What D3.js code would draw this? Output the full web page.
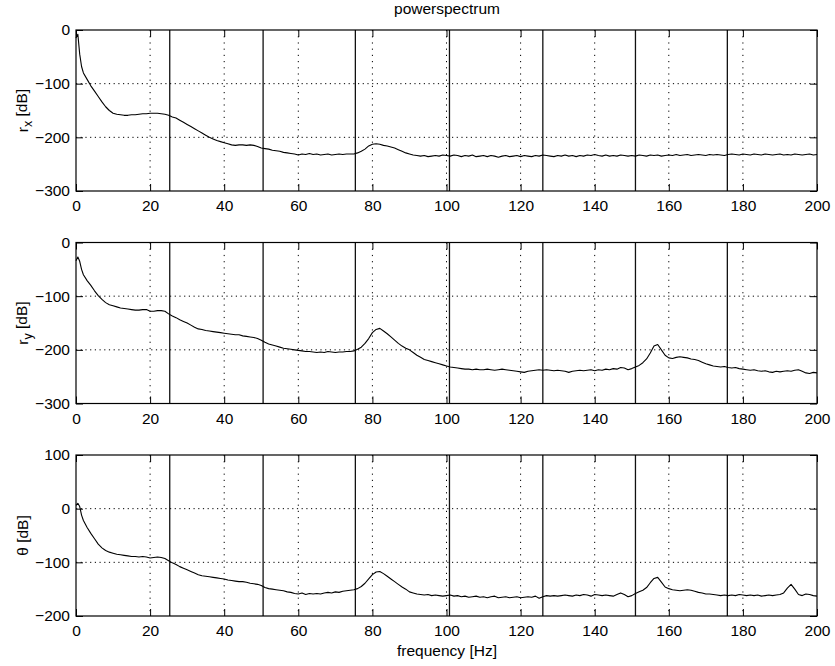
<!DOCTYPE html>
<html>
<head>
<meta charset="utf-8">
<script src="https://cdn.jsdelivr.net/npm/d3@7"></script>
<style>
  html, body { margin: 0; padding: 0; background: #fff; }
  text { font-family: "Liberation Sans", Arial, Helvetica, sans-serif; fill: #000; }
</style>
</head>
<body>
<svg id="chart" width="835" height="666"></svg>
<script>
// ---------- DATA ----------
const title = "powerspectrum";
const xLabel = "frequency [Hz]";
const xTicks = [0, 20, 40, 60, 80, 100, 120, 140, 160, 180, 200];
const harmonicLines = [25.3, 50.5, 75.4, 100.8, 126, 151, 175.8];

const freq = [0, 0.5, 1, 1.5, 2, 3, 4, 5, 6, 7, 8, 9, 10,
  11, 12, 13, 14, 15, 16, 17, 18, 19, 20,
  21, 22, 23, 24, 25, 26, 27, 28, 29, 30,
  31, 32, 33, 34, 35, 36, 37, 38, 39, 40,
  41, 42, 43, 44, 45, 46, 47, 48, 49, 50,
  51, 52, 53, 54, 55, 56, 57, 58, 59, 60,
  61, 62, 63, 64, 65, 66, 67, 68, 69, 70,
  71, 72, 73, 74, 75, 76, 77, 78, 79, 80,
  81, 82, 83, 84, 85, 86, 87, 88, 89, 90,
  91, 92, 93, 94, 95, 96, 97, 98, 99, 100,
  101, 102, 103, 104, 105, 106, 107, 108, 109, 110,
  111, 112, 113, 114, 115, 116, 117, 118, 119, 120,
  121, 122, 123, 124, 125, 126, 127, 128, 129, 130,
  131, 132, 133, 134, 135, 136, 137, 138, 139, 140,
  141, 142, 143, 144, 145, 146, 147, 148, 149, 150,
  151, 152, 153, 154, 155, 156, 157, 158, 159, 160,
  161, 162, 163, 164, 165, 166, 167, 168, 169, 170,
  171, 172, 173, 174, 175, 176, 177, 178, 179, 180,
  181, 182, 183, 184, 185, 186, 187, 188, 189, 190,
  191, 192, 193, 194, 195, 196, 197, 198, 199, 200];

const rxDB = [-15, -8, -45, -68, -80, -92, -104, -114, -124, -134, -143, -150, -155,
  -157, -158, -159, -159, -158, -158, -157, -156, -156, -155,
  -155, -155, -156, -157, -159, -162, -164, -168, -172, -176,
  -180, -184, -188, -192, -196, -200, -203, -206, -208, -210,
  -212, -214, -215, -214, -214, -215, -214, -215, -217, -220,
  -221, -222, -224, -225, -226, -228, -229, -230, -231, -233,
  -231, -232, -230, -232, -231, -233, -232, -231, -233, -232,
  -231, -232, -231, -231, -231, -229, -226, -222, -216, -213,
  -212, -213, -215, -216, -218, -220, -223, -226, -229, -231,
  -233, -234, -235, -234, -236, -235, -234, -235, -233, -234,
  -235, -233, -234, -236, -234, -235, -233, -236, -235, -234,
  -236, -234, -235, -237, -235, -234, -236, -235, -234, -236,
  -234, -235, -236, -234, -235, -233, -234, -235, -236, -234,
  -235, -233, -235, -234, -236, -234, -235, -233, -234, -232,
  -234, -235, -233, -235, -234, -235, -233, -234, -235, -234,
  -235, -233, -234, -235, -233, -234, -233, -235, -234, -233,
  -234, -232, -234, -233, -232, -234, -233, -232, -233, -234,
  -232, -233, -232, -233, -234, -232, -231, -232, -233, -231,
  -232, -233, -231, -232, -233, -231, -232, -233, -232, -231,
  -233, -232, -233, -231, -232, -233, -232, -231, -233, -232];

const ryDB = [-34, -27, -35, -50, -60, -71, -80, -90, -99, -106, -112, -116, -118,
  -120, -122, -123, -124, -125, -126, -126, -125, -125, -128,
  -128, -127, -127, -128, -133, -137, -140, -144, -147, -150,
  -154, -158, -161, -162, -164, -165, -166, -167, -168, -169,
  -170, -171, -172, -172, -174, -175, -176, -177, -179, -182,
  -186, -189, -191, -193, -195, -197, -198, -199, -200, -201,
  -202, -203, -203, -204, -205, -204, -205, -203, -204, -205,
  -204, -204, -203, -203, -202, -199, -195, -188, -179, -168,
  -162, -160, -165, -170, -176, -182, -188, -193, -197, -200,
  -205, -210, -214, -218, -220, -222, -224, -226, -228, -230,
  -232, -233, -234, -235, -236, -236, -237, -236, -237, -237,
  -236, -237, -238, -237, -236, -237, -238, -239, -240, -241,
  -242, -240, -239, -238, -237, -238, -237, -238, -239, -238,
  -239, -240, -242, -240, -239, -238, -239, -238, -237, -239,
  -237, -238, -236, -237, -235, -236, -233, -234, -237, -235,
  -232, -229, -224, -217, -206, -193, -190, -200, -210, -215,
  -216, -214, -213, -214, -215, -217, -218, -220, -223, -226,
  -228, -230, -231, -232, -231, -233, -234, -233, -235, -236,
  -237, -238, -237, -239, -240, -239, -241, -242, -240, -241,
  -240, -239, -240, -238, -237, -240, -243, -244, -242, -243];

const thetaDB = [6, 10, 4, -12, -22, -35, -46, -56, -66, -73, -78, -81, -83,
  -85, -86, -87, -88, -89, -89, -90, -89, -90, -92,
  -91, -90, -91, -93, -97, -101, -104, -108, -111, -114,
  -117, -120, -123, -125, -126, -127, -128, -129, -130, -131,
  -133, -134, -135, -136, -136, -137, -139, -140, -141, -143,
  -147, -149, -150, -151, -152, -153, -155, -156, -158, -159,
  -157, -160, -158, -159, -158, -159, -157, -156, -157, -155,
  -156, -154, -153, -152, -151, -149, -145, -139, -131, -123,
  -118, -117, -121, -126, -131, -136, -141, -146, -150, -155,
  -157, -159, -160, -161, -160, -162, -161, -162, -163, -162,
  -161, -163, -162, -164, -163, -165, -164, -163, -165, -164,
  -166, -164, -163, -166, -165, -164, -166, -165, -164, -166,
  -165, -164, -165, -163, -167, -164, -162, -163, -162, -163,
  -162, -161, -162, -163, -161, -162, -160, -161, -163, -160,
  -161, -162, -161, -162, -163, -160, -157, -160, -164, -162,
  -158, -155, -152, -147, -138, -130, -128, -137, -146, -149,
  -151, -152, -153, -152, -151, -152, -154, -156, -157, -159,
  -159, -160, -161, -162, -161, -162, -161, -162, -160, -161,
  -162, -161, -162, -161, -163, -162, -161, -162, -161, -160,
  -157, -148, -141, -150, -160, -162, -159, -160, -162, -163];

const yTicksRx = [-300, -200, -100, 0];
const yTicksRy = [-300, -200, -100, 0];
const yTicksTheta = [-200, -100, 0, 100];

// ---------- LAYOUT ----------
const svg = d3.select("#chart");
const left = 76, right = 817, panelH = 161;
const panels = [
  { top: 30,    domain: [-300, 0],   ticks: yTicksRx,    values: rxDB,    label: ["r", "x", " [dB]"] },
  { top: 242.5, domain: [-300, 0],   ticks: yTicksRy,    values: ryDB,    label: ["r", "y", " [dB]"] },
  { top: 455,   domain: [-200, 100], ticks: yTicksTheta, values: thetaDB, label: ["θ", "", " [dB]"] }
];

const x = d3.scaleLinear().domain([0, 200]).range([left, right]);
const tickLen = 7;
const fontSize = 15.5;

panels.forEach((p, i) => {
  const y = d3.scaleLinear().domain(p.domain).range([p.top + panelH, p.top]);
  const g = svg.append("g");

  // grid (dotted)
  g.append("g").selectAll("line.vg")
    .data(xTicks.filter(t => t > 0 && t < 200))
    .join("line")
    .attr("x1", d => x(d)).attr("x2", d => x(d))
    .attr("y1", y.range()[1]).attr("y2", y.range()[0])
    .attr("stroke", "#000").attr("stroke-width", 1)
    .attr("stroke-dasharray", "1.2,5");
  g.append("g").selectAll("line.hg")
    .data(p.ticks.filter(t => t > p.domain[0] && t < p.domain[1]))
    .join("line")
    .attr("x1", left).attr("x2", right)
    .attr("y1", d => y(d)).attr("y2", d => y(d))
    .attr("stroke", "#000").attr("stroke-width", 1)
    .attr("stroke-dasharray", "1.2,3.5");

  // harmonic solid lines
  g.append("g").selectAll("line.hl")
    .data(harmonicLines)
    .join("line")
    .attr("x1", d => x(d)).attr("x2", d => x(d))
    .attr("y1", y.range()[1]).attr("y2", y.range()[0])
    .attr("stroke", "#111").attr("stroke-width", 1.3);

  // curve
  const line = d3.line()
    .x((d, k) => x(freq[k]))
    .y(d => y(d));
  g.append("path")
    .datum(p.values)
    .attr("fill", "none")
    .attr("stroke", "#000")
    .attr("stroke-width", 1.1)
    .attr("stroke-linejoin", "round")
    .attr("d", line);

  // axes
  const axB = g.append("g").attr("transform", `translate(0,${p.top + panelH})`)
    .call(d3.axisBottom(x).tickValues(xTicks).tickSizeInner(-tickLen).tickSizeOuter(0).tickPadding(9).tickFormat(d3.format("d")));
  const axT = g.append("g").attr("transform", `translate(0,${p.top})`)
    .call(d3.axisTop(x).tickValues(xTicks).tickSizeInner(-tickLen).tickSizeOuter(0).tickFormat(""));
  const axL = g.append("g").attr("transform", `translate(${left},0)`)
    .call(d3.axisLeft(y).tickValues(p.ticks).tickSizeInner(-tickLen).tickSizeOuter(0).tickPadding(6).tickFormat(d3.format("d")));
  const axR = g.append("g").attr("transform", `translate(${right},0)`)
    .call(d3.axisRight(y).tickValues(p.ticks).tickSizeInner(-tickLen).tickSizeOuter(0).tickFormat(""));
  [axB, axT, axL, axR].forEach(a => {
    a.select(".domain").remove();
    a.selectAll(".tick line").attr("stroke", "#000").attr("stroke-width", 1);
    a.selectAll("text").attr("font-size", fontSize).attr("font-family", "Liberation Sans, Arial, sans-serif").attr("fill", "#000");
  });

  // box
  g.append("rect")
    .attr("x", left).attr("y", p.top)
    .attr("width", right - left).attr("height", panelH)
    .attr("fill", "none").attr("stroke", "#000").attr("stroke-width", 1.2);

  // y label
  const cy = p.top + panelH / 2;
  const t = g.append("text")
    .attr("transform", `translate(28,${cy}) rotate(-90)`)
    .attr("text-anchor", "middle")
    .attr("font-size", fontSize);
  t.append("tspan").text(p.label[0]);
  if (p.label[1]) {
    t.append("tspan").attr("dy", "0.35em").attr("font-size", fontSize * 0.8).text(p.label[1]);
    t.append("tspan").attr("dy", "-0.35em").text(p.label[2]);
  } else {
    t.append("tspan").text(p.label[2]);
  }
});

// title and x label
svg.append("text").attr("x", 447).attr("y", 14).attr("text-anchor", "middle")
  .attr("font-size", 15.5).text(title);
svg.append("text").attr("x", 447).attr("y", 656).attr("text-anchor", "middle")
  .attr("font-size", 15.5).text(xLabel);
</script>
</body>
</html>
